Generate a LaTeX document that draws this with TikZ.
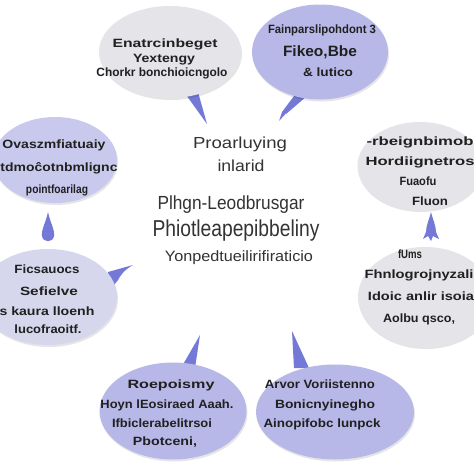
\documentclass[tikz,border=0pt]{standalone}
\usepackage{fontspec}
\setmainfont{Liberation Sans}
\usetikzlibrary{shapes.geometric,shadows}
\definecolor{bgrey}{HTML}{E4E4E9}
\definecolor{blav}{HTML}{B7B8E8}
\definecolor{blavlt}{HTML}{C9C9EE}
\definecolor{blavgr}{HTML}{D6D6EC}
\definecolor{tailc}{HTML}{7479D8}
\definecolor{txt}{HTML}{202020}
\definecolor{ctxtc}{HTML}{333333}
\newcommand\fw[2]{\resizebox{#1pt}{\height}{#2}}
\begin{document}
\begin{tikzpicture}[x=1pt,y=-1pt,
  bub/.style={ellipse, inner sep=0pt, draw=none,
    drop shadow={shadow xshift=1pt, shadow yshift=-2pt, opacity=0.10, fill=black}},
  btxt/.style={font=\bfseries\fontsize{12}{13}\selectfont, text=txt, inner sep=0pt, anchor=base},
  ctxt/.style={text=ctxtc, inner sep=0pt, anchor=base},
  tail/.style={fill=tailc, draw=none}]
\useasboundingbox (0,0) rectangle (474,474);
\fill[white] (0,0) rectangle (474,474);

% tails (drawn below bubbles)
\fill[tail] (184,92) -- (198,92) -- (207,124) -- cycle;
\fill[tail] (294,96) -- (307,96) -- (286,114) -- (290,109) -- (279,121) -- (282,112) -- cycle;
\fill[tail] (48,212) .. controls (50,222) and (55,230) .. (54,236) .. controls (53,243) and (43,243) .. (42,236) .. controls (41,230) and (46,222) .. (48,212) -- cycle;
\fill[tail] (431,212) .. controls (433,220) and (436,226) .. (436,232) -- (439,239) -- (433,236) -- (431,241) -- (428,236) -- (423,239) -- (426,232) .. controls (426,226) and (429,220) .. (431,212) -- cycle;
\fill[tail] (108,272) -- (133,265) .. controls (124,270) and (120,276) .. (118,280) -- (110,290) -- cycle;
\fill[tail] (181,368) -- (195,368) -- (200,335) -- cycle;
\fill[tail] (294,368) -- (309,368) -- (292,331) -- cycle;

% bubbles
\node[bub, fill=bgrey,  minimum width=142pt, minimum height=92pt] (b1) at (170,52) {};
\node[bub, fill=blav,   minimum width=136pt, minimum height=95pt] (b2) at (320,52) {};
\node[bub, fill=blavlt, minimum width=124pt, minimum height=86pt] (b3) at (55,160) {};
\node[bub, fill=bgrey,  minimum width=125pt, minimum height=88pt] (b4) at (420,166) {};
\node[bub, fill=blavgr, minimum width=138pt, minimum height=96pt] (b5) at (48,297) {};
\node[bub, fill=bgrey,  minimum width=134pt, minimum height=100pt] (b6) at (425,297) {};
\node[bub, fill=blav,   minimum width=147pt, minimum height=97pt] (b7) at (173,411) {};
\node[bub, fill=blav,   minimum width=158pt, minimum height=95pt] (b8) at (335,412) {};

% bubble texts
\node[btxt] (t11) at (165,47) {\fw{105}{Enatrcinbeget}};
\node[btxt] (t12) at (164,62) {\fw{62}{Yextengy}};
\node[btxt] (t13) at (162,76) {\fw{131}{Chorkr bonchioicngolo}};

\node[btxt] (t21) at (322,33) {\fw{108}{Fainparslipohdont 3}};
\node[btxt, font=\bfseries\fontsize{15}{15}\selectfont] (t22) at (320,56) {\fw{74}{Fikeo,Bbe}};
\node[btxt] (t23) at (328,76) {\fw{50}{\& lutico}};

\node[btxt] (t31) at (54,148) {\fw{103}{Ovaszmfiatuaiy}};
\node[btxt] (t32) at (59,171) {\fw{117}{tdmoĉotnbmlignc}};
\node[btxt] (t33) at (57,193) {\fw{62}{pointfoarilag}};

\node[btxt] (t41) at (420,145) {\fw{107}{-rbeignbimob}};
\node[btxt] (t42) at (420,165) {\fw{109}{Hordiignetros}};
\node[btxt] (t43) at (418,185) {\fw{37}{Fuaofu}};
\node[btxt] (t44) at (430,205) {\fw{36}{Fluon}};

\node[btxt] (t51) at (47,273) {\fw{65}{Ficsauocs}};
\node[btxt] (t52) at (49,295) {\fw{58}{Sefielve}};
\node[btxt] (t53) at (47,315) {\fw{95}{s kaura lloenh}};
\node[btxt] (t54) at (48,333) {\fw{67}{lucofraoitf.}};

\node[btxt] (t61) at (410,258) {\fw{24}{fUms}};
\node[btxt] (t62) at (419,278) {\fw{109}{Fhnlogrojnyzali}};
\node[btxt] (t63) at (421,300) {\fw{106}{Idoic anlir isoia}};
\node[btxt] (t64) at (419,322) {\fw{72}{Aolbu qsco,}};

\node[btxt] (t71) at (171,388) {\fw{87}{Roepoismy}};
\node[btxt] (t72) at (167,408) {\fw{133}{Hoyn lEosiraed Aaah.}};
\node[btxt] (t73) at (162,427) {\fw{100}{Ifbiclerabelitrsoi}};
\node[btxt] (t74) at (165,445) {\fw{64}{Pbotceni,}};

\node[btxt] (t81) at (320,388) {\fw{110}{Arvor Voriistenno}};
\node[btxt] (t82) at (325,408) {\fw{100}{Bonicnyinegho}};
\node[btxt] (t83) at (322,427) {\fw{117}{Ainopifobc lunpck}};

% centre texts
\node[ctxt, font=\fontsize{16}{16}\selectfont] (c1) at (240,148) {\fw{94}{Proarluying}};
\node[ctxt, font=\fontsize{16}{16}\selectfont] (c2) at (241,171) {\fw{47}{inlarid}};
\node[ctxt, font=\fontsize{19}{19}\selectfont] (c3) at (231,209) {\fw{147}{Plhgn-Leodbrusgar}};
\node[ctxt, font=\fontsize{23}{23}\selectfont] (c4) at (236,236) {\fw{167}{Phiotleapepibbeliny}};
\node[ctxt, font=\fontsize{15}{15}\selectfont] (c5) at (239,261) {\fw{148}{Yonpedtueilirifiraticio}};
\end{tikzpicture}
\end{document}
